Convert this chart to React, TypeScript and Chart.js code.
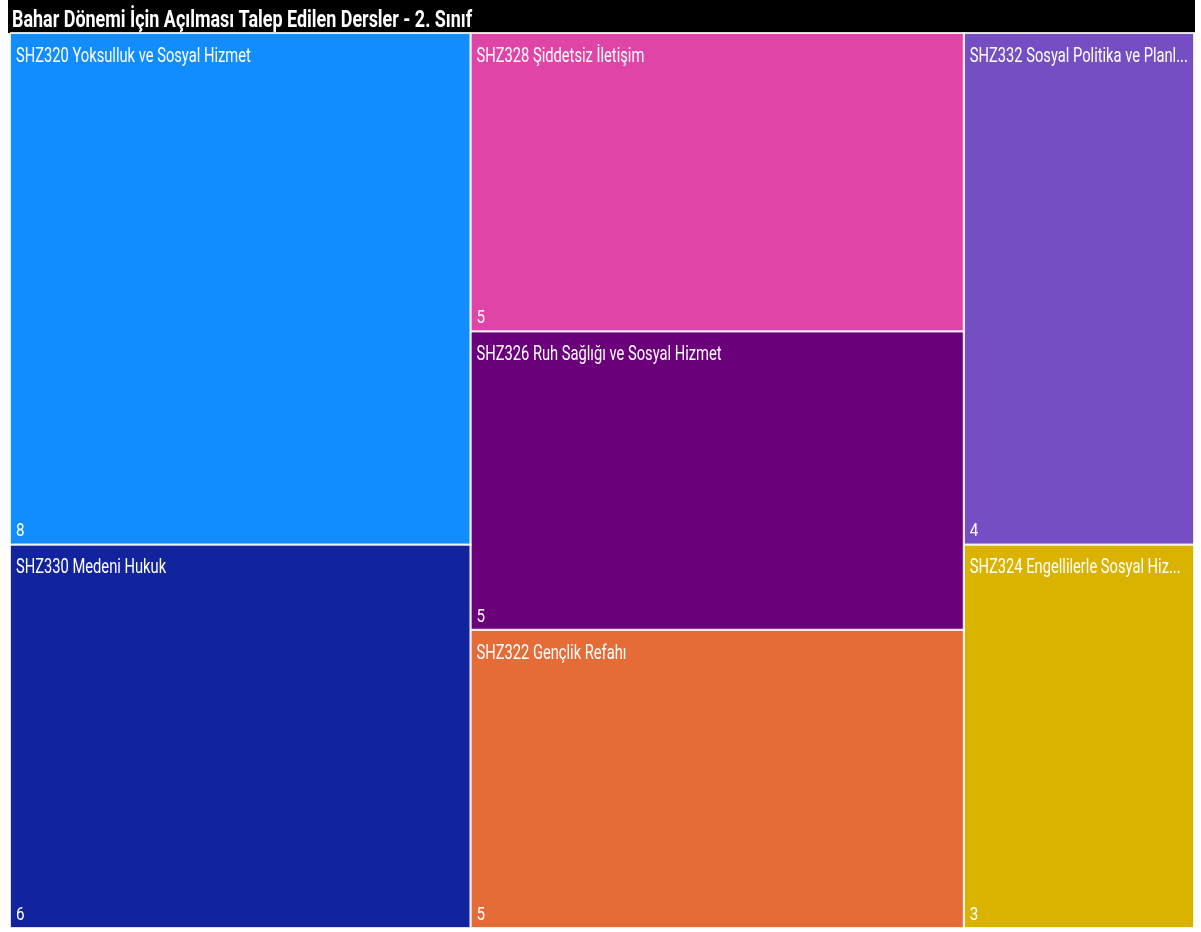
import React, { useEffect, useRef } from "react";
import { Chart, registerables } from "chart.js";

Chart.register(...registerables);

const TITLE = "Bahar Dönemi İçin Açılması Talep Edilen Dersler - 2. Sınıf";

const courses = [
  "SHZ320 Yoksulluk ve Sosyal Hizmet",
  "SHZ330 Medeni Hukuk",
  "SHZ328 Şiddetsiz İletişim",
  "SHZ326 Ruh Sağlığı ve Sosyal Hizmet",
  "SHZ322 Gençlik Refahı",
  "SHZ332 Sosyal Politika ve Planlama",
  "SHZ324 Engellilerle Sosyal Hizmet",
];
const counts = [8, 6, 5, 5, 5, 4, 3];
const colors = ["#118DFF", "#12239E", "#E044A7", "#6B007B", "#E66C37", "#744EC2", "#D9B300"];
// how many consecutive courses are stacked in each treemap column
const columnSizes = [2, 3, 2];

type Cell = { x0: number; x1: number; y0: number; y1: number; label: string; value: number; color: string };

function buildCells(): { cells: Cell[]; total: number } {
  const cells: Cell[] = [];
  let idx = 0;
  let x = 0;
  for (const n of columnSizes) {
    const vals = counts.slice(idx, idx + n);
    const sum = vals.reduce((a, b) => a + b, 0);
    let y = 0;
    for (let k = 0; k < n; k++) {
      const v = vals[k];
      cells.push({
        x0: x,
        x1: x + sum,
        y0: y / sum,
        y1: (y + v) / sum,
        label: courses[idx + k],
        value: v,
        color: colors[idx + k],
      });
      y += v;
    }
    x += sum;
    idx += n;
  }
  return { cells, total: x };
}

const LABEL_FONT = '20px Roboto';
const LABEL_SX = 0.735;
const VALUE_FONT = '19px Roboto';
const VALUE_SX = 0.8;
const TITLE_FONT = 'bold 23px Roboto';
const TITLE_SX = 0.78;

function fitText(ctx: CanvasRenderingContext2D, text: string, maxW: number): string {
  if (ctx.measureText(text).width <= maxW) return text;
  let t = text;
  while (t.length > 1 && ctx.measureText(t + "...").width > maxW) t = t.slice(0, -1);
  return t.trimEnd() + "...";
}

export default function App() {
  const canvasRef = useRef<HTMLCanvasElement | null>(null);

  useEffect(() => {
    const { cells, total } = buildCells();
    const canvas = canvasRef.current!;

    const titlePlugin = {
      id: "titleBar",
      beforeDraw(chart: any) {
        const ctx = chart.ctx as CanvasRenderingContext2D;
        ctx.save();
        ctx.fillStyle = "#000";
        ctx.fillRect(0, 0, chart.width, 33);
        ctx.fillStyle = "#fff";
        ctx.font = TITLE_FONT;
        ctx.textBaseline = "alphabetic";
        ctx.translate(4, 27);
        ctx.scale(TITLE_SX, 1);
        ctx.fillText(TITLE, 0, 0);
        ctx.restore();
      },
    };

    const labelPlugin = {
      id: "cellLabels",
      afterDatasetsDraw(chart: any) {
        const ctx = chart.ctx as CanvasRenderingContext2D;
        const xs = chart.scales.x;
        const ys = chart.scales.y;
        cells.forEach((c) => {
          const left = xs.getPixelForValue(c.x0);
          const right = xs.getPixelForValue(c.x1);
          const top = ys.getPixelForValue(c.y0);
          const bottom = ys.getPixelForValue(c.y1);
          ctx.save();
          ctx.fillStyle = "#ffffff";
          ctx.textBaseline = "alphabetic";
          ctx.font = LABEL_FONT;
          const txt = fitText(ctx, c.label, (right - left - 12) / LABEL_SX);
          ctx.save();
          ctx.translate(left + 6, top + 29);
          ctx.scale(LABEL_SX, 1);
          ctx.fillText(txt, 0, 0);
          ctx.restore();
          ctx.font = VALUE_FONT;
          ctx.save();
          ctx.translate(left + 6, bottom - 8);
          ctx.scale(VALUE_SX, 1);
          ctx.fillText(String(c.value), 0, 0);
          ctx.restore();
          ctx.restore();
        });
      },
    };

    const chart = new Chart(canvas, {
      type: "line",
      data: {
        datasets: cells.map((c) => ({
          label: c.label,
          data: [
            { x: c.x0, y: c.y0 },
            { x: c.x1, y: c.y0 },
            { x: c.x1, y: c.y1 },
            { x: c.x0, y: c.y1 },
            { x: c.x0, y: c.y0 },
          ],
          backgroundColor: c.color,
          borderColor: "rgba(255,255,255,0.85)",
          borderWidth: 2,
          fill: "shape" as any,
          tension: 0,
          pointRadius: 0,
          pointHoverRadius: 0,
          pointHitRadius: 0,
          clip: false as any,
        })),
      },
      options: {
        animation: false,
        responsive: true,
        maintainAspectRatio: false,
        events: [],
        layout: { padding: { top: 33, left: 2, right: 1, bottom: 2 } },
        plugins: {
          legend: { display: false },
          tooltip: { enabled: false },
          title: { display: false },
        },
        scales: {
          x: { type: "linear", min: 0, max: total, display: false },
          y: { type: "linear", min: 0, max: 1, reverse: true, display: false },
        },
      },
      plugins: [titlePlugin, labelPlugin],
    });
    return () => chart.destroy();
  }, []);

  return (
    <div style={{ position: "absolute", left: 8, top: 0, width: 1187, height: 930, background: "#fff" }}>
      <canvas ref={canvasRef} />
    </div>
  );
}
